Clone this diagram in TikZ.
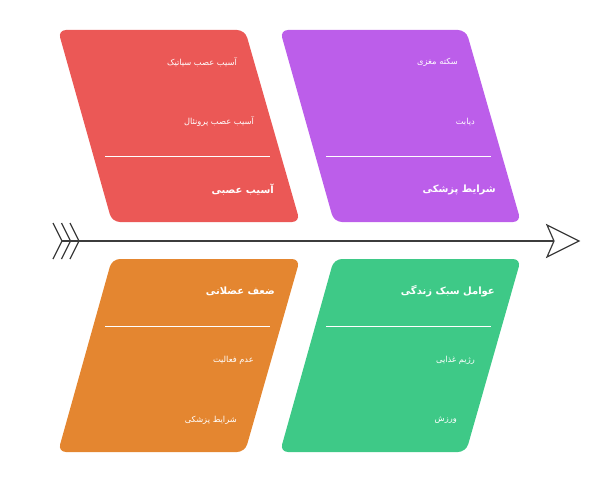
\documentclass[tikz,border=0pt]{standalone}
\usepackage{fontspec}
\newfontfamily\arabicfont[Script=Arabic]{DejaVu Sans}
\TeXXeTstate=1
\definecolor{redbox}{RGB}{235,88,86}
\definecolor{purplebox}{RGB}{188,94,234}
\definecolor{orangebox}{RGB}{228,134,48}
\definecolor{greenbox}{RGB}{62,201,135}
\definecolor{spine}{RGB}{60,60,60}
\begin{document}
\begin{tikzpicture}[x=1pt,y=-1pt,
  box/.style={rounded corners=8pt},
  divider/.style={white,line width=1pt},
  title/.style={anchor=east,text=white,inner sep=0pt,font=\arabicfont\bfseries\fontsize{10}{12}\selectfont},
  item/.style={anchor=east,text=white,inner sep=0pt,font=\arabicfont\fontsize{8.3}{10}\selectfont}]
  \useasboundingbox (0,0) rectangle (607,476);
  % boxes
  \fill [box,redbox] (58,30) -- (245,30) -- (300,222) -- (112,222) -- cycle;
  \fill [box,purplebox] (280,30) -- (466,30) -- (521,222) -- (334,222) -- cycle;
  \fill [box,orangebox] (112,259) -- (300,259) -- (245,452) -- (58,452) -- cycle;
  \fill [box,greenbox] (334,259) -- (521,259) -- (466,452) -- (280,452) -- cycle;
  \draw [divider] (105,156) -- (270,156);
  \draw [divider] (326,156) -- (491,156);
  \draw [divider] (105,326) -- (270,326);
  \draw [divider] (326,326) -- (491,326);
  % texts
  \node [item] (r1) at (237,62) {\beginR آسیب عصب سیاتیک\endR};
  \node [item] (r2) at (254,122) {\beginR آسیب عصب پرونئال\endR};
  \node [title] (r3) at (274,190) {\beginR آسیب عصبی\endR};
  \node [item] (p1) at (458,62) {\beginR سکته مغزی\endR};
  \node [item] (p2) at (475,122) {\beginR دیابت\endR};
  \node [title] (p3) at (496,190) {\beginR شرایط پزشکی\endR};
  \node [title] (o1) at (275,291) {\beginR ضعف عضلانی\endR};
  \node [item] (o2) at (254,360) {\beginR عدم فعالیت\endR};
  \node [item] (o3) at (237,420) {\beginR شرایط پزشکی\endR};
  \node [title] (g1) at (495,291) {\beginR عوامل سبک زندگی\endR};
  \node [item] (g2) at (475,360) {\beginR رژیم غذایی\endR};
  \node [item] (g3) at (457,420) {\beginR ورزش\endR};
  % spine
  \coordinate (tail) at (62,241);
  \coordinate (notch) at (554,241);
  \coordinate (head) at (579,241);
  \draw [spine,line width=1.2pt] (tail) -- (notch);
  \draw [spine,line width=1.2pt,line join=miter,fill=white]
    (head) -- (547,225) -- (notch) -- (547,257) -- cycle;
  \foreach \dx in {0,8.5,17}
    \draw [spine,line width=1.2pt] (53+\dx,223) -- (62+\dx,241) -- (53+\dx,259);
\end{tikzpicture}
\end{document}
